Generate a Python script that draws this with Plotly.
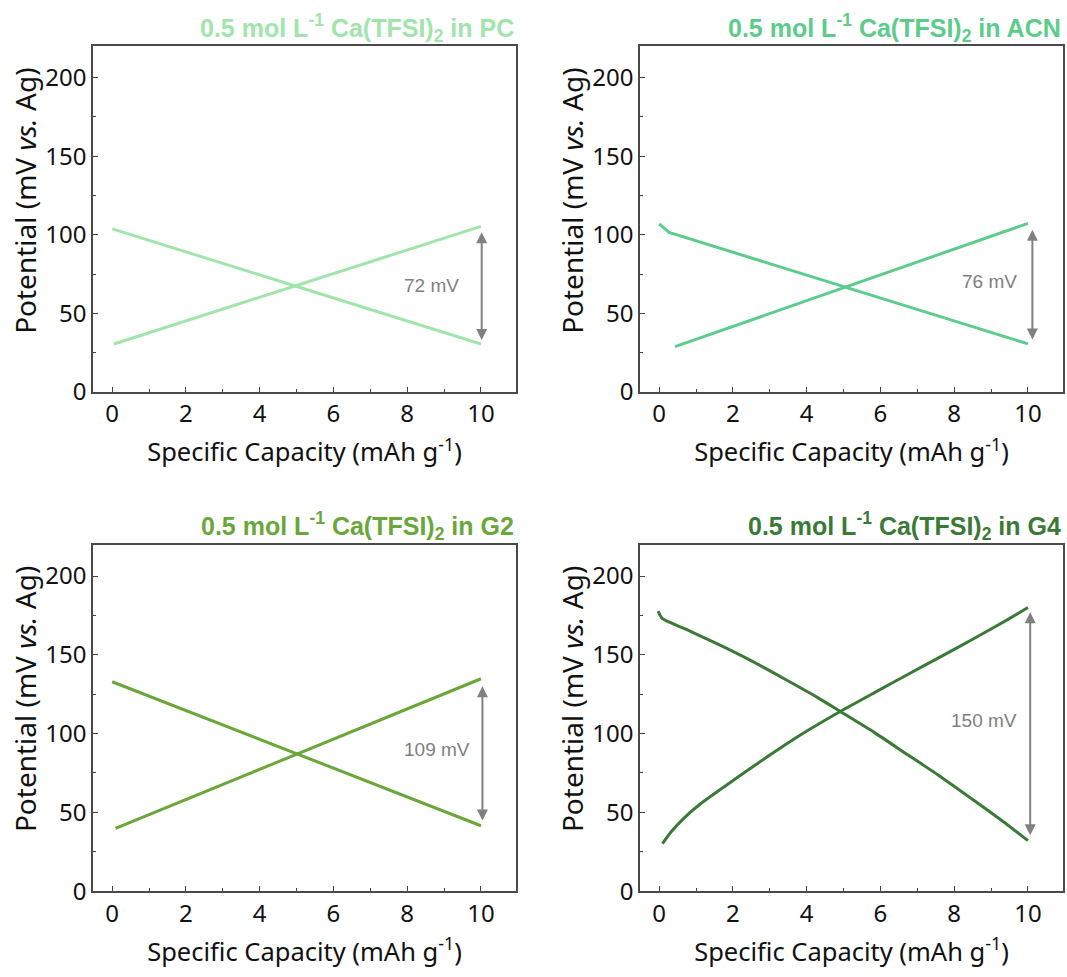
import plotly.graph_objects as go

# ---------------- data ----------------
titles = ["<b>0.5 mol L<sup>-1</sup> Ca(TFSI)<sub>2</sub> in PC</b>",
          "<b>0.5 mol L<sup>-1</sup> Ca(TFSI)<sub>2</sub> in ACN</b>",
          "<b>0.5 mol L<sup>-1</sup> Ca(TFSI)<sub>2</sub> in G2</b>",
          "<b>0.5 mol L<sup>-1</sup> Ca(TFSI)<sub>2</sub> in G4</b>"]
colors = ["#a1e5ac", "#5ccc8a", "#6aa63a", "#3b7a36"]

pc_charge_x = [0.05, 10.0]
pc_charge_y = [30.5, 105.4]
pc_dis_x = [0.0, 10.0]
pc_dis_y = [103.8, 30.5]

acn_charge_x = [0.43, 10.0]
acn_charge_y = [28.8, 107.3]
acn_dis_x = [0.0, 0.27, 10.0]
acn_dis_y = [106.9, 101.5, 30.6]

g2_charge_x = [0.09, 10.0]
g2_charge_y = [39.8, 134.8]
g2_dis_x = [0.0, 10.0]
g2_dis_y = [132.9, 41.5]

g4_charge_x = [0.09, 0.32, 0.68, 1.13, 2.04, 2.94, 3.85, 4.91, 5.84, 6.74, 7.65, 8.55, 9.46, 10.0]
g4_charge_y = [30.2, 37.5, 46.5, 55.6, 70.8, 85.4, 99.4, 114.0, 126.0, 137.5, 149.0, 160.5, 172.5, 180.0]
g4_dis_x = [-0.03, 0.09, 0.68, 1.58, 2.49, 3.39, 4.30, 4.91, 5.84, 6.74, 7.65, 8.55, 9.46, 10.0]
g4_dis_y = [177.7, 172.9, 166.7, 156.9, 146.3, 134.8, 122.8, 114.0, 100.6, 86.5, 72.3, 57.3, 41.8, 32.0]

overpot_labels = ["72 mV", "76 mV", "109 mV", "150 mV"]
arrow_x = [10.02, 10.12, 10.04, 10.06]
arrow_top = [102.5, 104.2, 131.0, 178.0]
arrow_bottom = [33.0, 33.3, 44.8, 35.4]
label_x = [9.45, 9.75, 9.75, 9.77]
label_y = [67.5, 70.4, 89.6, 108.3]

x_title = "Specific Capacity (mAh g<sup>-1</sup>)"
y_title = "Potential (mV <i>vs.</i> Ag)"

series = [
    (pc_charge_x, pc_charge_y, pc_dis_x, pc_dis_y),
    (acn_charge_x, acn_charge_y, acn_dis_x, acn_dis_y),
    (g2_charge_x, g2_charge_y, g2_dis_x, g2_dis_y),
    (g4_charge_x, g4_charge_y, g4_dis_x, g4_dis_y),
]

# ---------------- layout geometry ----------------
W, H = 1067, 977
xdoms = [[93 / W, 516 / W], [640 / W, 1063 / W]]
ydoms = [[1 - 398 / H, 1 - 47 / H], [1 - 905 / H, 1 - 553 / H]]
ytitle_x_px = [25, 572]
ytitle_y_px = [204, 710]

fig = go.Figure()
tick_font = dict(family="Noto Sans, Open Sans, sans-serif", size=24, color="#111111")
xtitle_font = dict(family="Noto Sans, Open Sans, sans-serif", size=25.5, color="#111111")
ytitle_font = dict(family="Noto Sans, Open Sans, sans-serif", size=28, color="#111111")
title_font = dict(family="Liberation Sans, Arial, sans-serif", size=25)

for i in range(4):
    r, c = divmod(i, 2)
    xa = "x" if i == 0 else f"x{i+1}"
    ya = "y" if i == 0 else f"y{i+1}"
    cx, cy, dx, dy = series[i]
    shape = "spline" if i == 3 else "linear"
    fig.add_trace(go.Scatter(x=cx, y=cy, mode="lines", xaxis=xa, yaxis=ya,
                             line=dict(color=colors[i], width=3, shape=shape, smoothing=0.6),
                             showlegend=False))
    fig.add_trace(go.Scatter(x=dx, y=dy, mode="lines", xaxis=xa, yaxis=ya,
                             line=dict(color=colors[i], width=3, shape=shape, smoothing=0.6),
                             showlegend=False))

    xkey = "xaxis" if i == 0 else f"xaxis{i+1}"
    ykey = "yaxis" if i == 0 else f"yaxis{i+1}"
    fig.update_layout(**{
        xkey: dict(domain=xdoms[c], anchor=ya, range=[-0.52, 10.95],
                   tickvals=[0, 2, 4, 6, 8, 10], ticks="inside", ticklen=5, tickwidth=1,
                   tickcolor="#444444",
                   minor=dict(tickvals=[1, 3, 5, 7, 9], ticks="inside", ticklen=3, tickcolor="#444444"),
                   showline=True, linecolor="#4a4a4a", linewidth=1.5, mirror=True,
                   showgrid=False, zeroline=False, tickfont=tick_font,
                   title=dict(text=x_title, font=xtitle_font, standoff=15)),
        ykey: dict(domain=ydoms[r], anchor=xa, range=[0, 220],
                   tickvals=[0, 50, 100, 150, 200], ticks="inside", ticklen=5, tickwidth=1,
                   tickcolor="#444444",
                   minor=dict(tickvals=[25, 75, 125, 175], ticks="inside", ticklen=3, tickcolor="#444444"),
                   showline=True, linecolor="#4a4a4a", linewidth=1.5, mirror=True,
                   showgrid=False, zeroline=False, tickfont=tick_font),
    })

    # y-axis title (as rotated text)
    fig.add_annotation(text=y_title, xref="paper", yref="paper", textangle=-90,
                       x=ytitle_x_px[c] / W, y=1 - ytitle_y_px[r] / H,
                       xanchor="center", yanchor="middle", showarrow=False, font=ytitle_font)

    # panel title
    fig.add_annotation(text=titles[i], xref="paper", yref="paper",
                       x=xdoms[c][1], y=ydoms[r][1] - 2 / H, xanchor="right", yanchor="bottom",
                       showarrow=False, font=dict(color=colors[i], **title_font))
    # double arrow
    fig.add_annotation(x=arrow_x[i], y=arrow_bottom[i], ax=arrow_x[i], ay=arrow_top[i],
                       xref=xa, yref=ya, axref=xa, ayref=ya, text="",
                       showarrow=True, arrowhead=2, startarrowhead=2, arrowside="end+start",
                       arrowsize=1.1, startarrowsize=1.1, arrowwidth=2, arrowcolor="#808080")
    # overpotential label
    fig.add_annotation(x=label_x[i], y=label_y[i], xref=xa, yref=ya, text=overpot_labels[i],
                       showarrow=False, xanchor="right", yanchor="middle",
                       font=dict(family="Liberation Sans, Arial, sans-serif", size=19, color="#808080"))

fig.update_layout(width=W, height=H, margin=dict(l=0, r=0, t=0, b=0),
                  plot_bgcolor="white", paper_bgcolor="white")

fig.write_html("out.html")
